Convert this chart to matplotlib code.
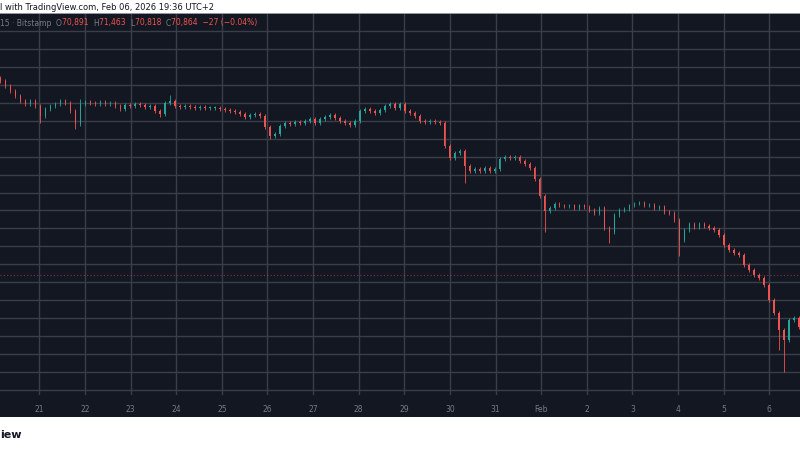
import matplotlib
matplotlib.use("Agg")
import matplotlib.pyplot as plt
import numpy as np
from matplotlib.patches import Rectangle

closes = [87000,86500,86000,85500,85000,84700,85000,84500,83500,84200,
          84500,84700,85000,84800,84000,82700,84700,84900,84800,84700,
          84900,84700,84800,84500,84200,84600,84500,84700,84600,84400,
          84500,84000,83700,84800,85000,84500,84400,84500,84400,84300,
          84400,84300,84300,84300,84200,84100,84000,83900,83700,83400,
          83600,83700,83500,82400,81500,81700,82500,82800,82700,82900,
          82800,83000,83200,82800,83200,83400,83600,83300,83000,82800,
          82600,83000,84000,84200,84000,83800,84100,84500,84700,84300,
          84700,84000,83800,83500,83000,82900,83000,82900,82800,80500,
          79300,79800,80000,78500,78000,78200,78000,78300,78000,78200,
          79200,79400,79300,79400,79000,78700,78300,77200,75500,73900,
          74200,74700,74500,74400,74500,74200,74500,74300,74000,73700,
          74200,72200,71800,73500,74000,74100,74500,74700,74800,74500,
          74600,74200,74300,73800,73700,73000,71000,72000,72600,72300,
          72600,72400,72200,72000,71500,70500,70000,69700,69500,68500,
          68000,67500,67200,66500,65000,63700,62000,61000,63000,63200,
          62300]
spike_lows = {8: 82800, 15: 82200, 32: 83400, 54: 81200, 93: 76800, 109: 71800,
              122: 70700, 136: 69400, 156: 60000, 157: 57800}
spike_highs = {16: 85200, 34: 85600}
day_labels = ["21","22","23","24","25","26","27","28","29","30","31","Feb","2","3","4","5","6"]
grid_prices = list(range(56000, 92001, 1800))

BG = "#131722"; GRID = "#3a3e4a"; UP = "#26a69a"; DN = "#ef5350"; TXT = "#787b86"

fig = plt.figure(figsize=(8, 4.5), dpi=100)
fig.patch.set_facecolor("white")
fig.add_artist(Rectangle((0, (450-417)/450), 1, 22/450, transform=fig.transFigure,
                         facecolor=BG, edgecolor="none", zorder=-10))
fig.add_artist(Rectangle((0, (450-14)/450), 1, 1/450, transform=fig.transFigure,
                         facecolor="#9598a1", edgecolor="none", zorder=-10))
ax = fig.add_axes([0, (450-395)/450, 1, 381/450])
ax.set_facecolor(BG)

step = 5/45.7
t0 = 1 - 39/45.7
n = len(closes)
t = t0 + np.arange(n)*step
opens = [closes[0] + 300] + closes[:-1]
for i in range(n):
    o, c = opens[i], closes[i]
    col = UP if c >= o else DN
    hi = spike_highs.get(i, max(o, c) + 200)
    lo = spike_lows.get(i, min(o, c) - 200)
    ax.vlines(t[i], lo, hi, color=col, lw=0.6, zorder=3)
    ax.bar(t[i], max(abs(c-o), 80), bottom=min(o, c), width=step*0.3, color=col, zorder=3, lw=0)

for p in grid_prices:
    ax.axhline(p, color=GRID, lw=1, zorder=1)
ticks = np.arange(1, 18)
for d in ticks:
    ax.axvline(d, color=GRID, lw=1, zorder=1)
ax.axhline(67500, color=DN, lw=0.8, ls=(0, (1, 2)), alpha=0.5, zorder=2)

ax.set_xlim(t0 - 0.01, t[-1] + 0.02)
ax.set_ylim(55500, 93700)
ax.set_xticks(ticks)
ax.set_xticklabels(day_labels, color=TXT, fontsize=5.5)
ax.tick_params(axis="x", length=0, pad=7)
ax.set_yticks([])
for s in ax.spines.values():
    s.set_visible(False)

fig.text(0.0, 1-7/450, "l with TradingView.com, Feb 06, 2026 19:36 UTC+2", fontsize=6,
         color="#131722", va="center", ha="left")
y_leg = 1-23/450
parts = [("15 · Bitstamp  ", TXT), ("O", TXT), ("70,891  ", DN), ("H", TXT), ("71,463  ", DN),
         ("L", TXT), ("70,818  ", DN), ("C", TXT), ("70,864  −27 (−0.04%)", DN)]
x = 0.0
r = fig.canvas.get_renderer()
for s, c in parts:
    tx = fig.text(x, y_leg, s, fontsize=5.5, color=c, va="center", ha="left")
    bb = tx.get_window_extent(renderer=r)
    x += bb.width/800
fig.text(0.0, 1-435/450, "iew", fontsize=8, fontweight="bold", color="#131722", va="center")

fig.savefig("out.png", dpi=100, facecolor=fig.get_facecolor())
